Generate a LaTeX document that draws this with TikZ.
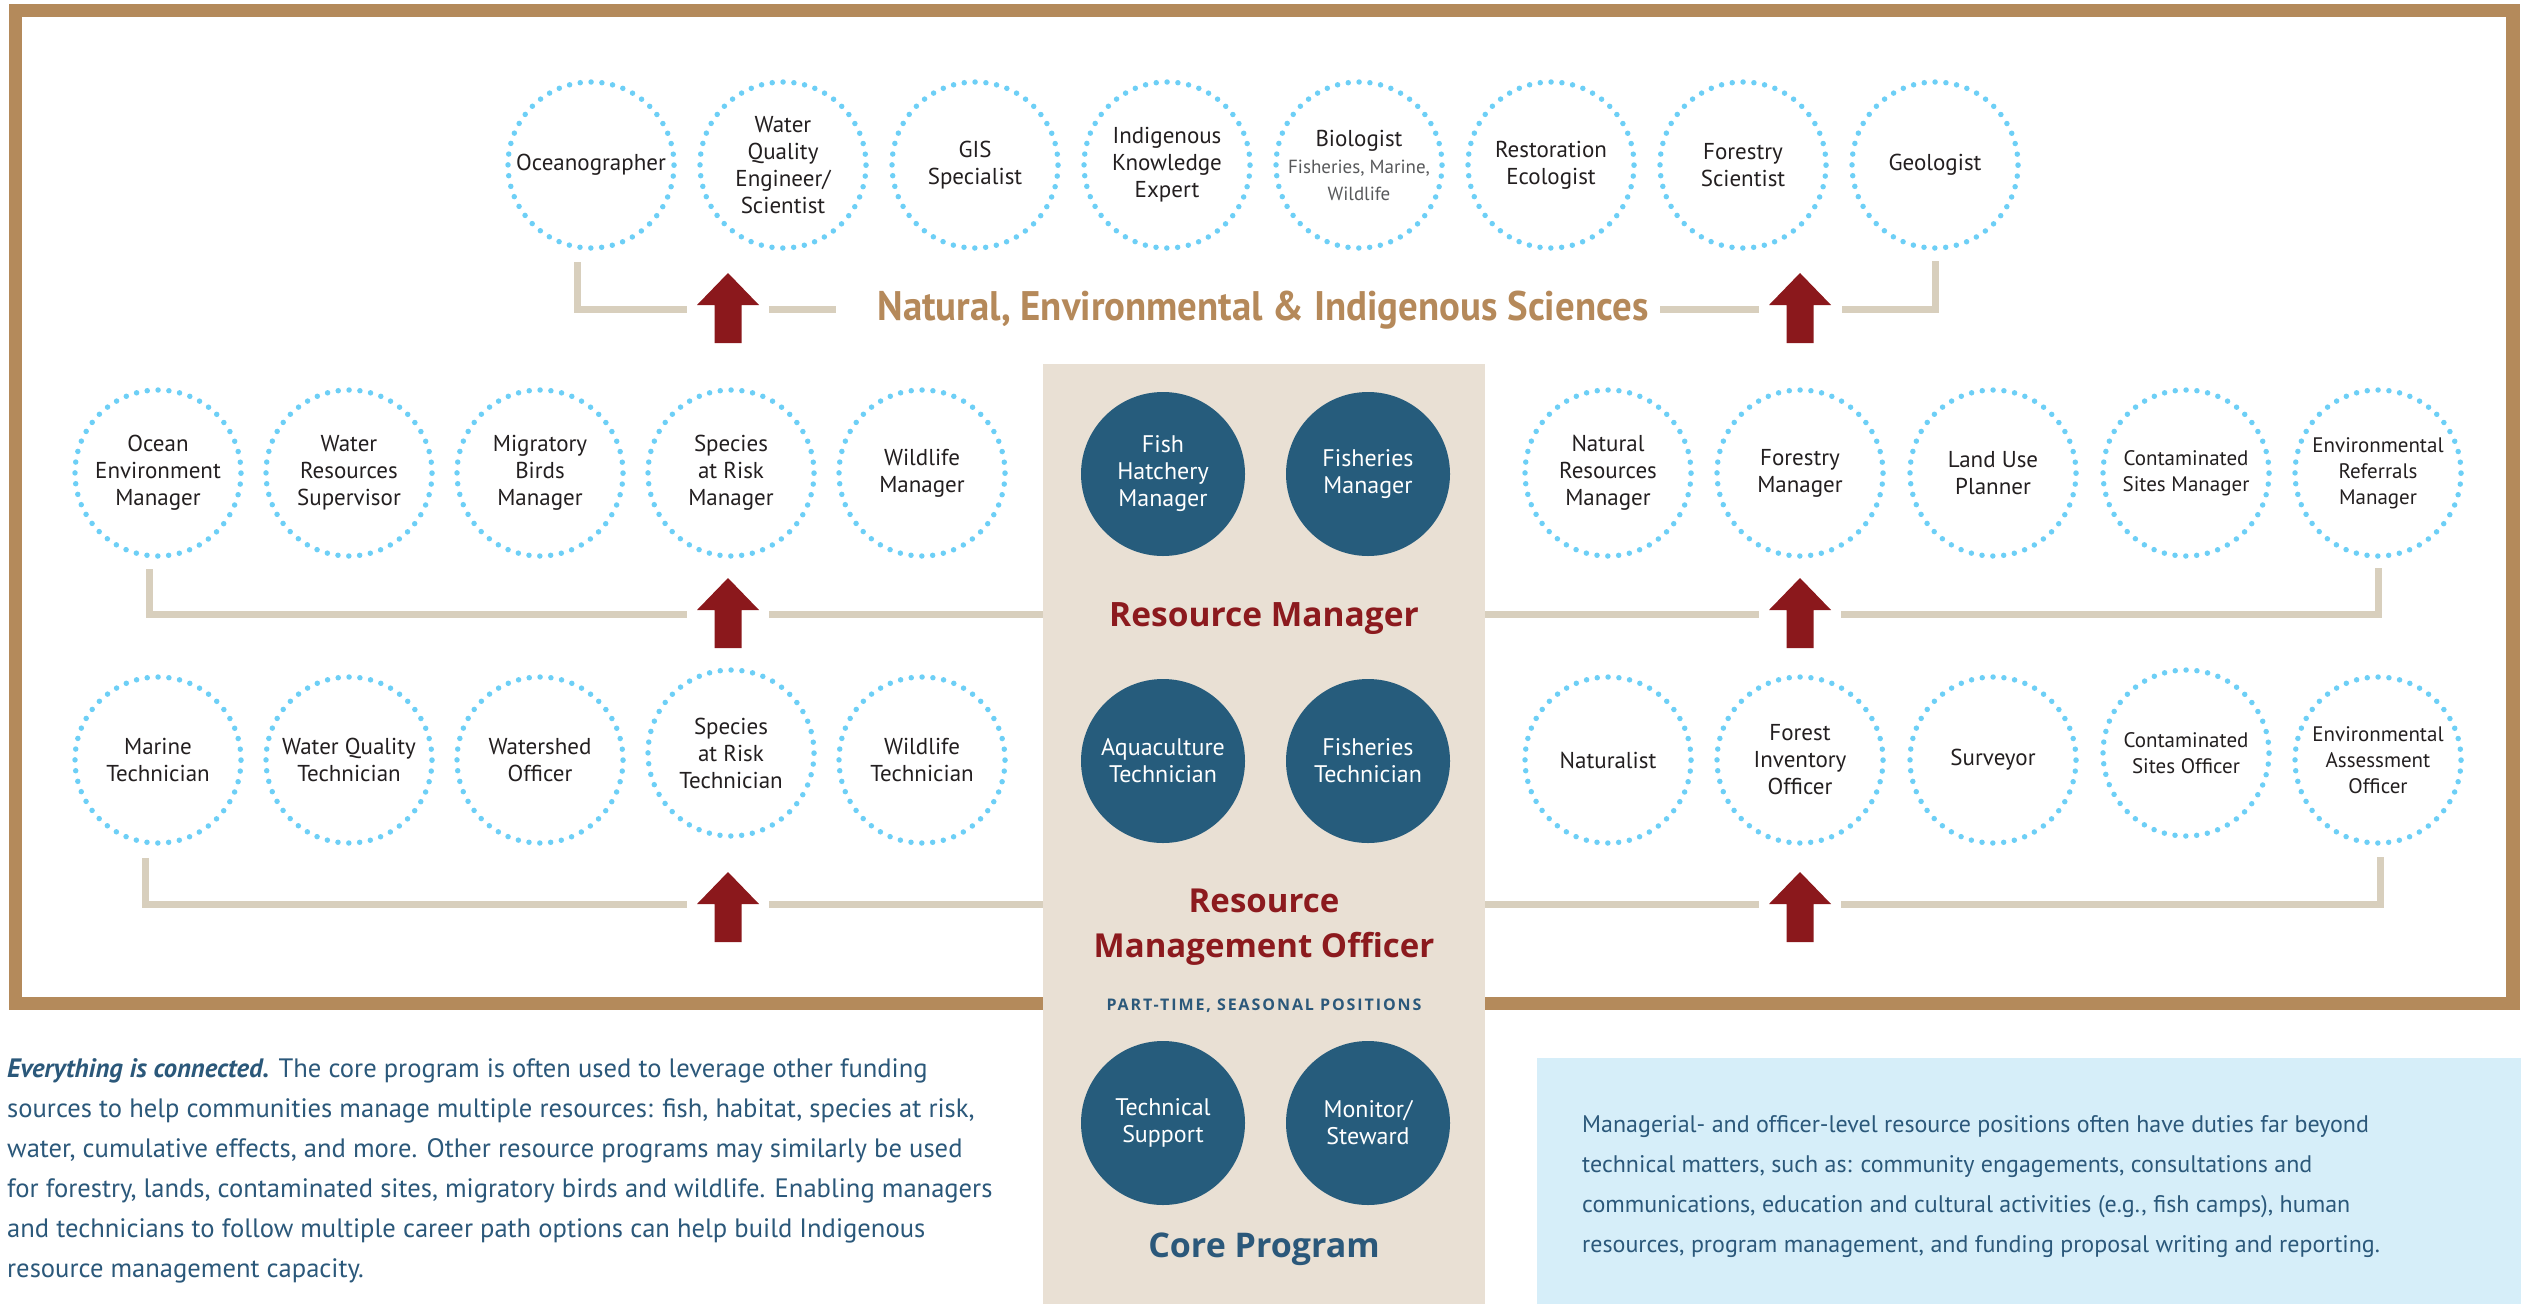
\documentclass[tikz,border=0pt]{standalone}
\usepackage{fontspec}
\setmainfont{PT Sans}
\newfontfamily\osans{Open Sans}
\newfontfamily\scifont[FakeStretch=0.94]{PT Sans}
\usetikzlibrary{calc}
\definecolor{framec}{HTML}{B48A5B}
\definecolor{scic}{HTML}{B5895A}
\definecolor{linec}{HTML}{D8CFBD}
\definecolor{arrowc}{HTML}{8B181C}
\definecolor{panelc}{HTML}{E9E0D4}
\definecolor{darkblue}{HTML}{265C7C}
\definecolor{dotblue}{HTML}{6DCFF6}
\definecolor{redc}{HTML}{8C1A1E}
\definecolor{textblue}{HTML}{2B587A}
\definecolor{boxblue}{HTML}{D6EEF9}
\definecolor{circtext}{HTML}{231F20}
\definecolor{bioc}{HTML}{58595B}
\begin{document}
\begin{tikzpicture}[x=1pt,y=-1pt,
  dotc/.style={circle, minimum size=166pt, inner sep=0pt, outer sep=0pt, draw=dotblue,
    line width=5.5pt, dash pattern=on 0pt off 10.86pt, line cap=round, text=circtext,
    align=center, font=\fontsize{23}{27}\selectfont},
  smallc/.style={font=\fontsize{21}{26}\selectfont},
  darkc/.style={circle, minimum size=164pt, inner sep=0pt, outer sep=0pt, fill=darkblue,
    text=white, align=center, font=\fontsize{24}{27}\selectfont},
  conn/.style={draw=linec, line width=7pt},
  para/.style={text=textblue, inner sep=0pt, font=\fontsize{24}{40}\selectfont},
  lpara/.style={para, font=\fontsize{26.6}{40}\selectfont},
  uparrow/.pic={\fill[arrowc] (-13.5,70) -- (-13.5,32) -- (-31,32) -- (0,0) -- (31,32)
     -- (13.5,32) -- (13.5,70) -- cycle;}
]
\useasboundingbox (0,0) rectangle (2529,1304);
% frame
\draw[framec, line width=13.5pt] (15.5,10.5) rectangle (2513,1003.5);
% central panel
\node[fill=panelc, anchor=north west, minimum width=442pt, minimum height=940pt,
  inner sep=0pt, outer sep=0pt] (panel) at (1043,364) {};
% info box
\node[fill=boxblue, anchor=north west, minimum width=984pt, minimum height=246pt,
  inner sep=0pt, outer sep=0pt] (infobox) at (1537,1058) {};

% top row
\node[dotc] (t1) at (591,165) {Oceanographer};
\node[dotc] (t2) at (783,165) {Water\\Quality\\Engineer/\\Scientist};
\node[dotc] (t3) at (975,165) {GIS\\Specialist};
\node[dotc] (t4) at (1167,165) {Indigenous\\Knowledge\\Expert};
\node[dotc] (t5) at (1359,165) {Biologist\\{\color{bioc}\fontsize{19}{27}\selectfont Fisheries, Marine,}\\{\color{bioc}\fontsize{19}{27}\selectfont Wildlife}};
\node[dotc] (t6) at (1551,165) {Restoration\\Ecologist};
\node[dotc] (t7) at (1743,165) {Forestry\\Scientist};
\node[dotc] (t8) at (1935,165) {Geologist};

% manager row
\node[dotc] (m1) at (158,473) {Ocean\\Environment\\Manager};
\node[dotc] (m2) at (349,473) {Water\\Resources\\Supervisor};
\node[dotc] (m3) at (540,473) {Migratory\\Birds\\Manager};
\node[dotc] (m4) at (731,473) {Species\\at Risk\\Manager};
\node[dotc] (m5) at (922,473) {Wildlife\\Manager};
\node[dotc] (m6) at (1608,473) {Natural\\Resources\\Manager};
\node[dotc] (m7) at (1800,473) {Forestry\\Manager};
\node[dotc] (m8) at (1993,473) {Land Use\\Planner};
\node[dotc, smallc] (m9) at (2186,473) {Contaminated\\Sites Manager};
\node[dotc, smallc] (m10) at (2378,473) {Environmental\\Referrals\\Manager};

% technician row
\node[dotc] (r1) at (158,760) {Marine\\Technician};
\node[dotc] (r2) at (349,760) {Water Quality\\Technician};
\node[dotc] (r3) at (540,760) {Watershed\\Officer};
\node[dotc] (r4) at (731,753) {Species\\at Risk\\Technician};
\node[dotc] (r5) at (922,760) {Wildlife\\Technician};
\node[dotc] (r6) at (1608,760) {Naturalist};
\node[dotc] (r7) at (1800,760) {Forest\\Inventory\\Officer};
\node[dotc] (r8) at (1993,760) {Surveyor};
\node[dotc, smallc] (r9) at (2186,753) {Contaminated\\Sites Officer};
\node[dotc, smallc] (r10) at (2378,760) {Environmental\\Assessment\\Officer};

% core circles
\node[darkc] (d1) at (1163,474) {Fish\\Hatchery\\Manager};
\node[darkc] (d2) at (1368,474) {Fisheries\\Manager};
\node[darkc] (d3) at (1163,761) {Aquaculture\\Technician};
\node[darkc] (d4) at (1368,761) {Fisheries\\Technician};
\node[darkc] (d5) at (1163,1123) {Technical\\Support};
\node[darkc] (d6) at (1368,1123) {Monitor/\\Steward};

% headings
\node[font=\scifont\bfseries\fontsize{41.3}{44}\selectfont, text=scic, anchor=base, inner sep=0pt] (sci) at (1263,320) {Natural, Environmental \& Indigenous Sciences};
\node[font=\osans\bfseries\fontsize{33.5}{38}\selectfont, text=redc, anchor=base, inner sep=0pt] (rm) at (1264,626) {Resource Manager};
\node[font=\osans\bfseries\fontsize{33}{45}\selectfont, text=redc, align=center, inner sep=0pt] (rmo) at (1264,927) {Resource\\Management Officer};
\node[font={\osans\bfseries\fontsize{16}{18}\selectfont\addfontfeature{LetterSpace=12}}, text=textblue, anchor=base, inner sep=0pt] (pt) at (1264,1010) {PART-TIME, SEASONAL POSITIONS};
\node[font=\osans\bfseries\fontsize{34}{38}\selectfont, text=textblue, anchor=base, inner sep=0pt] (cp) at (1264,1257) {Core Program};

% arrows
\coordinate (aT1) at (728,273);
\coordinate (aT2) at (1800,273);
\coordinate (aM1) at (728,578);
\coordinate (aM2) at (1800,578);
\coordinate (aB1) at (728,872);
\coordinate (aB2) at (1800,872);

% connectors top
\draw[conn] ($(t1.south)+(-14,14)$) |- ($(aT1)+(-41,36.5)$);
\draw[conn] ($(aT1)+(41,36.5)$) -- ($(aT1)+(108,36.5)$);
\draw[conn] ($(aT2)+(-140,36.5)$) -- ($(aT2)+(-41,36.5)$);
\draw[conn] ($(aT2)+(42,36.5)$) -| ($(t8.south)+(0,13)$);
% connectors manager row
\coordinate (lM1) at ($(aM1)+(41,36)$);
\coordinate (rM2) at ($(aM2)+(-41,36)$);
\draw[conn] ($(m1.south)+(-9,13)$) |- ($(aM1)+(-41,36)$);
\draw[conn] (lM1) -- (lM1 -| panel.west);
\draw[conn] (rM2 -| panel.east) -- (rM2);
\draw[conn] ($(aM2)+(41,36)$) -| ($(m10.south)+(0,12)$);
% connectors technician row
\coordinate (lB1) at ($(aB1)+(41,32)$);
\coordinate (rB2) at ($(aB2)+(-41,32)$);
\draw[conn] ($(r1.south)+(-13,15)$) |- ($(aB1)+(-41,32)$);
\draw[conn] (lB1) -- (lB1 -| panel.west);
\draw[conn] (rB2 -| panel.east) -- (rB2);
\draw[conn] ($(aB2)+(41,32)$) -| ($(r10.south)+(2,14)$);

\pic at (aT1) {uparrow};
\pic at (aT2) {uparrow};
\pic at (aM1) {uparrow};
\pic at (aM2) {uparrow};
\pic at (aB1) {uparrow};
\pic at (aB2) {uparrow};

% paragraphs
\node[lpara, anchor=base west] (p1) at (7,1077) {\textbf{\textit{Everything is connected.}} The core program is often used to leverage other funding};
\node[lpara, anchor=base west] (p2) at (7,1117) {sources to help communities manage multiple resources: fish, habitat, species at risk,};
\node[lpara, anchor=base west] (p3) at (7,1157) {water, cumulative effects, and more. Other resource programs may similarly be used};
\node[lpara, anchor=base west] (p4) at (7,1197) {for forestry, lands, contaminated sites, migratory birds and wildlife. Enabling managers};
\node[lpara, anchor=base west] (p5) at (7,1237) {and technicians to follow multiple career path options can help build Indigenous};
\node[lpara, anchor=base west] (p6) at (7,1277) {resource management capacity.};

\node[para, anchor=base west] (q1) at (1582,1132) {Managerial- and officer-level resource positions often have duties far beyond};
\node[para, anchor=base west] (q2) at (1582,1172) {technical matters, such as: community engagements, consultations and};
\node[para, anchor=base west] (q3) at (1582,1212) {communications, education and cultural activities (e.g., fish camps), human};
\node[para, anchor=base west] (q4) at (1582,1252) {resources, program management, and funding proposal writing and reporting.};
\end{tikzpicture}
\end{document}
